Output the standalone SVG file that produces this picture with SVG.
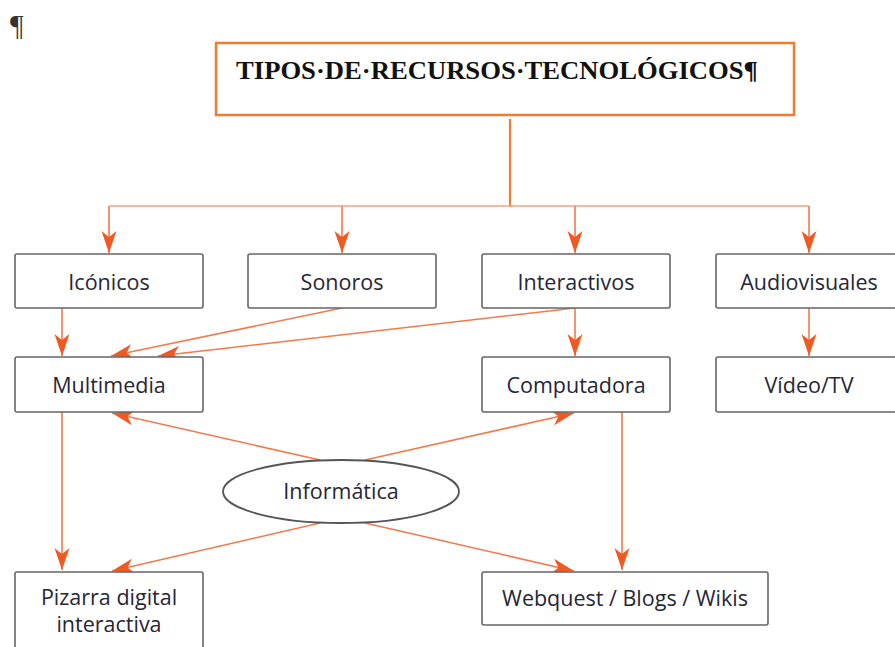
<svg xmlns="http://www.w3.org/2000/svg" width="895" height="647" viewBox="0 0 895 647">
<style>
.box{fill:#fff;stroke:#666;stroke-width:1.6}
.lbl{font-family:"Open Sans","Liberation Sans",sans-serif;font-size:21.5px;fill:#262636;text-anchor:middle}
.ln{fill:none;stroke:#F37A4A;stroke-width:1.6}
.ar{marker-end:url(#ah)}
</style>
<defs>
<marker id="ah" markerUnits="userSpaceOnUse" markerWidth="26" markerHeight="18" viewBox="-24 -9 26 18" refX="0" refY="0" orient="auto">
<path d="M0,0 L-22,-7.5 L-16,0 L-22,7.5 Z" fill="#F05A22"/>
</marker>
</defs>
<rect width="895" height="647" fill="#fff"/>
<text x="10" y="35" font-family="Liberation Serif,serif" font-size="30" fill="#333">¶</text>
<g id="title">
<rect x="216" y="43" width="578" height="72" fill="#fff" stroke="#ED7D31" stroke-width="2.5"/>
<text x="236" y="79" font-family="Liberation Serif,serif" font-weight="bold" font-size="26" fill="#111" textLength="522" lengthAdjust="spacingAndGlyphs">TIPOS·DE·RECURSOS·TECNOLÓGICOS¶</text>
</g>
<g id="connectors">
<line x1="510" y1="119" x2="510" y2="207" stroke="#ED7D31" stroke-width="2.2"/>
<line x1="109" y1="206" x2="809" y2="206" stroke="#F7A07A" stroke-width="1.6"/>
<line class="ln ar" x1="109" y1="206" x2="109" y2="253"/>
<line class="ln ar" x1="342" y1="206" x2="342" y2="253"/>
<line class="ln ar" x1="575" y1="206" x2="575" y2="253"/>
<line class="ln ar" x1="809" y1="206" x2="809" y2="253"/>
<line class="ln ar" x1="62" y1="308" x2="62" y2="356"/>
<line class="ln ar" x1="342" y1="308" x2="111" y2="356"/>
<line class="ln ar" x1="575" y1="308" x2="158" y2="356"/>
<line class="ln ar" x1="575" y1="308" x2="575" y2="356"/>
<line class="ln ar" x1="809" y1="308" x2="809" y2="356"/>
<line class="ln ar" x1="62" y1="412" x2="62" y2="570"/>
<line class="ln ar" x1="622" y1="412" x2="622" y2="570"/>
<line class="ln ar" x1="320" y1="460" x2="112" y2="413"/>
<line class="ln ar" x1="365" y1="460" x2="574" y2="413"/>
<line class="ln ar" x1="320" y1="523" x2="112" y2="571"/>
<line class="ln ar" x1="365" y1="523" x2="574" y2="571"/>
</g>
<g id="iconicos"><rect class="box" x="15" y="254" width="188" height="54" rx="2"/><text class="lbl" x="109" y="290">Icónicos</text></g>
<g id="sonoros"><rect class="box" x="248" y="254" width="188" height="54" rx="2"/><text class="lbl" x="342" y="290">Sonoros</text></g>
<g id="interactivos"><rect class="box" x="482" y="254" width="188" height="54" rx="2"/><text class="lbl" x="576" y="290">Interactivos</text></g>
<g id="audiovisuales"><rect class="box" x="716" y="254" width="188" height="54" rx="2"/><text class="lbl" x="809" y="290">Audiovisuales</text></g>
<g id="multimedia"><rect class="box" x="15" y="357" width="188" height="55" rx="2"/><text class="lbl" x="109" y="393">Multimedia</text></g>
<g id="computadora"><rect class="box" x="482" y="357" width="188" height="55" rx="2"/><text class="lbl" x="576" y="393">Computadora</text></g>
<g id="video"><rect class="box" x="716" y="357" width="188" height="55" rx="2"/><text class="lbl" x="809" y="393">Vídeo/TV</text></g>
<g id="informatica"><ellipse cx="341" cy="491.5" rx="118" ry="31.5" fill="#fff" stroke="#555" stroke-width="1.8"/><text class="lbl" x="341" y="499">Informática</text></g>
<g id="pizarra"><rect class="box" x="15" y="572" width="188" height="90" rx="2"/><text class="lbl" x="109" y="605">Pizarra digital</text><text class="lbl" x="109" y="632">interactiva</text></g>
<g id="webquest"><rect class="box" x="482" y="572" width="286" height="53" rx="2"/><text class="lbl" x="625" y="606">Webquest / Blogs / Wikis</text></g>
</svg>
